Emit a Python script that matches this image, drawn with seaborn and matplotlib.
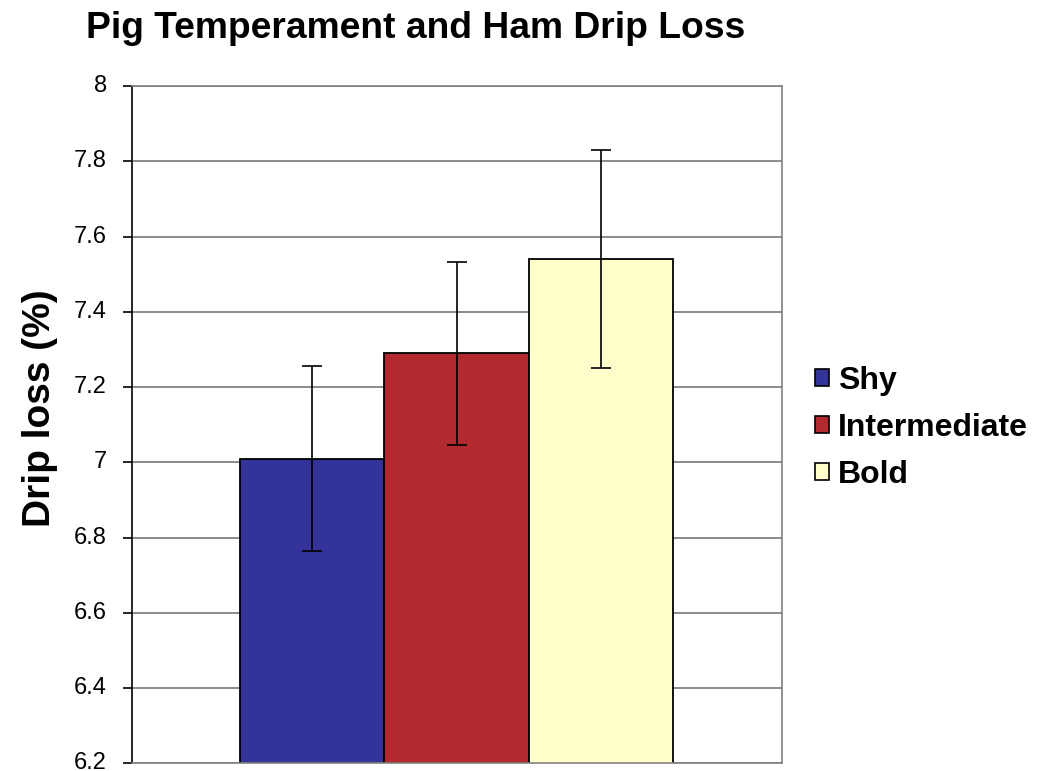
import matplotlib
matplotlib.use("Agg")
import matplotlib.pyplot as plt
import matplotlib.transforms as mtransforms
import seaborn as sns
import numpy as np
import pandas as pd

# data
groups = ["Shy", "Intermediate", "Bold"]
drip_loss = [7.01, 7.29, 7.54]
std_err = [0.246, 0.243, 0.29]
colors = ["#333399", "#B2292E", "#FFFFCC"]

sns.set_style("white")
plt.rcParams['font.family'] = ['Liberation Sans', 'DejaVu Sans']
plt.rcParams['text.color'] = 'black'
plt.rcParams['ytick.color'] = 'black'
plt.rcParams['axes.labelcolor'] = 'black'

fig = plt.figure(figsize=(10.47, 7.71), dpi=100)
ax = fig.add_axes([131.7/1047, 7.7/771, 650/1047, 677.3/771])

df = pd.DataFrame({"group": groups, "loss": drip_loss})
sns.barplot(data=df, x="group", y="loss", hue="group", palette=colors,
            saturation=1, width=1.0, edgecolor="black", linewidth=1.3, ax=ax,
            legend=False, errorbar=None, zorder=2)

# error bars
ax.errorbar(np.arange(len(groups)), drip_loss, yerr=std_err, fmt="none",
            ecolor="black", elinewidth=1.2, capsize=7.5, capthick=1.2, zorder=3)

ax.set_ylim(6.2, 8.0)
ax.set_xlim(-0.5 - 0.75, 2.5 + 0.75)
ax.set_yticks(np.arange(6.2, 8.01, 0.2))
ax.set_yticklabels(["6.2", "6.4", "6.6", "6.8", "7", "7.2", "7.4", "7.6", "7.8", "8"])
ax.set_xticks([])
ax.set_xlabel("")
ax.set_ylabel("")
ax.yaxis.grid(True, color="#787878", linewidth=1.2, zorder=0)
ax.set_axisbelow(True)
ax.tick_params(axis="y", left=True, length=6.5, width=1.2, labelsize=17, pad=11.5,
               direction="out", color="black", labelcolor="black")

# nudge tick labels up a little so 6.2 stays inside the picture
shift = mtransforms.ScaledTranslation(0, 2.5/100, fig.dpi_scale_trans)
for lbl in ax.get_yticklabels():
    lbl.set_transform(lbl.get_transform() + shift)

for s in ["top", "right", "bottom"]:
    ax.spines[s].set_color("#808080")
    ax.spines[s].set_linewidth(1.2)
ax.spines["left"].set_color("black")
ax.spines["left"].set_linewidth(1.2)

fig.text(40/1047, 1 - 408/771, "Drip loss (%)", fontsize=28, fontweight="bold",
         rotation=90, ha="center", va="center")

fig.text(416/1047, 1 - 29/771, "Pig Temperament and Ham Drip Loss",
         fontsize=26.8, fontweight="bold", ha="center", va="center")

handles = [plt.Rectangle((0, 0), 1, 1, facecolor=c, edgecolor="black", linewidth=1.2)
           for c in colors]
leg = fig.legend(handles, groups, loc="center left",
                 bbox_to_anchor=(815/1047, 1 - 428/771), frameon=False,
                 borderpad=0, borderaxespad=0,
                 prop={"size": 23, "weight": "bold"}, handlelength=0.45,
                 handleheight=0.47, handletextpad=0.28, labelspacing=0.53)

fig.savefig("out.png", dpi=100)
